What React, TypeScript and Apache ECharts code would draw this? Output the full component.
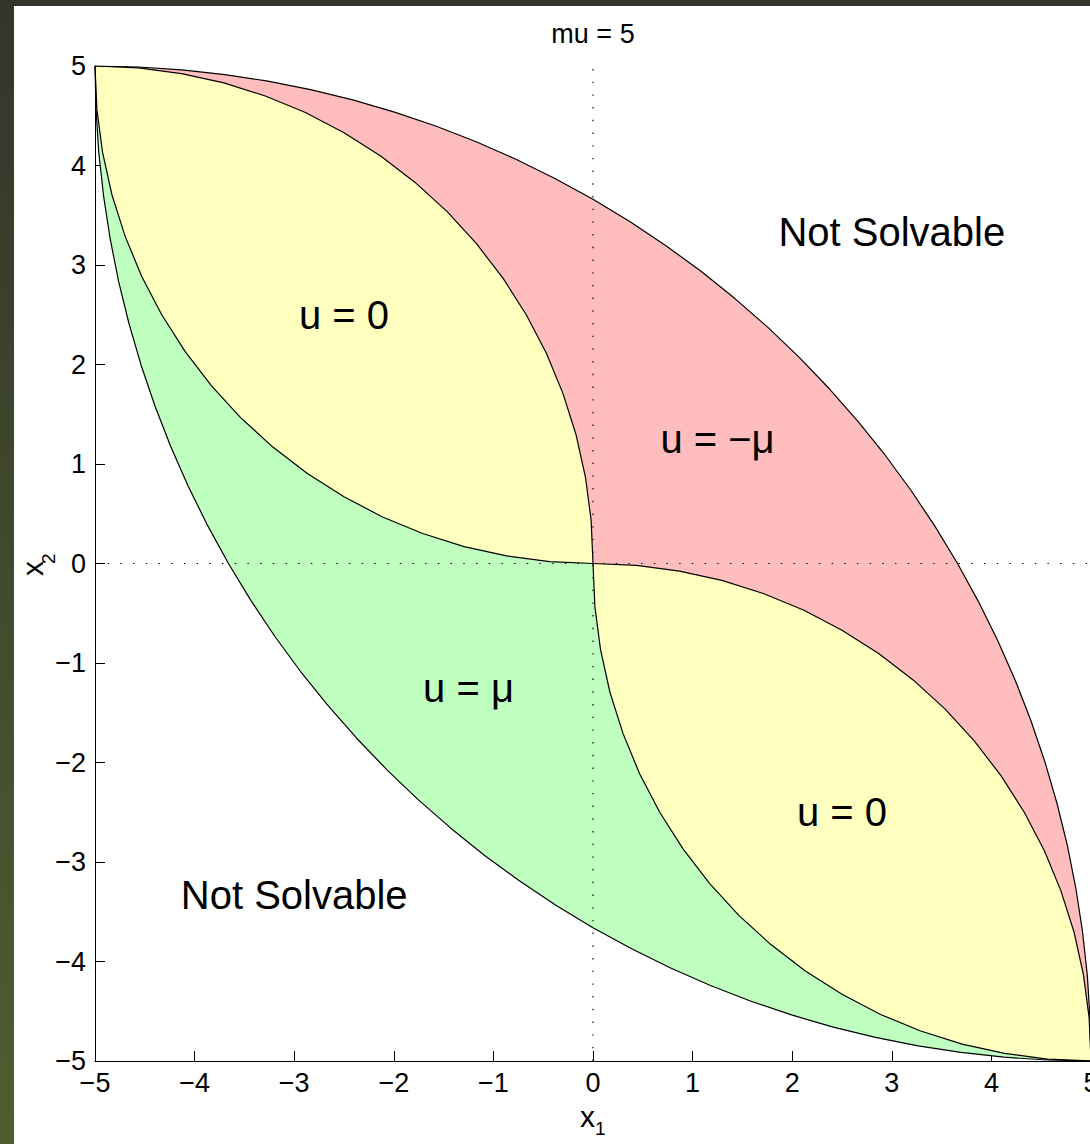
import React, { useEffect, useRef } from 'react';
import * as echarts from 'echarts';

const FONT = '"Liberation Sans", Arial, Helvetica, sans-serif';

const tickValues = [-5, -4, -3, -2, -1, 0, 1, 2, 3, 4, 5];
const tickLabels = ['−5', '−4', '−3', '−2', '−1', '0', '1', '2', '3', '4', '5'];

const titleText = 'mu = 5';

// Outer upper boundary (Not Solvable / u = -mu)
const curveA: number[][] = [
  [-5, 5], [-4.564, 4.99], [-4.128, 4.962], [-3.695, 4.914], [-3.264, 4.848], [-2.836, 4.763],
  [-2.412, 4.659], [-1.993, 4.537], [-1.58, 4.397], [-1.173, 4.239], [-0.774, 4.063], [-0.383, 3.87],
  [0, 3.66], [0.373, 3.434], [0.736, 3.192], [1.088, 2.934], [1.428, 2.66], [1.756, 2.373],
  [2.071, 2.071], [2.373, 1.756], [2.66, 1.428], [2.934, 1.088], [3.192, 0.736], [3.434, 0.373],
  [3.66, 0], [3.87, -0.383], [4.063, -0.774], [4.239, -1.173], [4.397, -1.58], [4.537, -1.993],
  [4.659, -2.412], [4.763, -2.836], [4.848, -3.264], [4.914, -3.695], [4.962, -4.128], [4.99, -4.564],
  [5, -5],
];

// Outer lower boundary (Not Solvable / u = mu)
const curveB: number[][] = [
  [-5, 5], [-4.99, 4.564], [-4.962, 4.128], [-4.914, 3.695], [-4.848, 3.264], [-4.763, 2.836],
  [-4.659, 2.412], [-4.537, 1.993], [-4.397, 1.58], [-4.239, 1.173], [-4.063, 0.774], [-3.87, 0.383],
  [-3.66, 0], [-3.434, -0.373], [-3.192, -0.736], [-2.934, -1.088], [-2.66, -1.428], [-2.373, -1.756],
  [-2.071, -2.071], [-1.756, -2.373], [-1.428, -2.66], [-1.088, -2.934], [-0.736, -3.192], [-0.373, -3.434],
  [0, -3.66], [0.383, -3.87], [0.774, -4.063], [1.173, -4.239], [1.58, -4.397], [1.993, -4.537],
  [2.412, -4.659], [2.836, -4.763], [3.264, -4.848], [3.695, -4.914], [4.128, -4.962], [4.564, -4.99],
  [5, -5],
];

// Upper lens, upper-right edge
const curveC: number[][] = [
  [-5, 5], [-4.564, 4.981], [-4.132, 4.924], [-3.706, 4.83], [-3.29, 4.698], [-2.887, 4.532],
  [-2.5, 4.33], [-2.132, 4.096], [-1.786, 3.83], [-1.464, 3.536], [-1.17, 3.214], [-0.904, 2.868],
  [-0.67, 2.5], [-0.468, 2.113], [-0.302, 1.71], [-0.17, 1.294], [-0.076, 0.868], [-0.019, 0.436],
  [0, 0],
];

// Upper lens, lower-left edge
const curveD: number[][] = [
  [-5, 5], [-4.981, 4.564], [-4.924, 4.132], [-4.83, 3.706], [-4.698, 3.29], [-4.532, 2.887],
  [-4.33, 2.5], [-4.096, 2.132], [-3.83, 1.786], [-3.536, 1.464], [-3.214, 1.17], [-2.868, 0.904],
  [-2.5, 0.67], [-2.113, 0.468], [-1.71, 0.302], [-1.294, 0.17], [-0.868, 0.076], [-0.436, 0.019],
  [0, 0],
];

// Lower lens, upper-right edge
const curveE: number[][] = [
  [0, 0], [0.436, -0.019], [0.868, -0.076], [1.294, -0.17], [1.71, -0.302], [2.113, -0.468],
  [2.5, -0.67], [2.868, -0.904], [3.214, -1.17], [3.536, -1.464], [3.83, -1.786], [4.096, -2.132],
  [4.33, -2.5], [4.532, -2.887], [4.698, -3.29], [4.83, -3.706], [4.924, -4.132], [4.981, -4.564],
  [5, -5],
];

// Lower lens, lower-left edge
const curveF: number[][] = [
  [0, 0], [0.019, -0.436], [0.076, -0.868], [0.17, -1.294], [0.302, -1.71], [0.468, -2.113],
  [0.67, -2.5], [0.904, -2.868], [1.17, -3.214], [1.464, -3.536], [1.786, -3.83], [2.132, -4.096],
  [2.5, -4.33], [2.887, -4.532], [3.29, -4.698], [3.706, -4.83], [4.132, -4.924], [4.564, -4.981],
  [5, -5],
];

const zeroLineX: number[][] = [[0, -5], [0, 5]];
const zeroLineY: number[][] = [[-5, 0], [5, 0]];

const regionLabels = [
  { text: 'u = 0', x1: -2.5, x2: 2.5 },
  { text: 'u = −μ', x1: 1.25, x2: 1.25 },
  { text: 'u = μ', x1: -1.25, x2: -1.25 },
  { text: 'u = 0', x1: 2.5, x2: -2.5 },
  { text: 'Not Solvable', x1: 3, x2: 3.33 },
  { text: 'Not Solvable', x1: -3, x2: -3.33 },
];

const rev = (a: number[][]) => a.slice().reverse();

const regions = [
  { name: 'red', color: '#ffbdbd', points: [...curveA, ...rev(curveE), ...rev(curveC)] },
  { name: 'green', color: '#bfffbf', points: [...curveD, ...curveF, ...rev(curveB)] },
  { name: 'yellowUpper', color: '#ffffc0', points: [...curveC, ...rev(curveD)] },
  { name: 'yellowLower', color: '#ffffc0', points: [...curveE, ...rev(curveF)] },
];

const curves = [curveA, curveB, curveC, curveD, curveE, curveF];

export default function App() {
  const ref = useRef<HTMLDivElement>(null);

  useEffect(() => {
    if (!ref.current) return;
    const chart = echarts.init(ref.current, null, { renderer: 'svg' });

    const axisCommon = {
      type: 'value',
      min: -5,
      max: 5,
      interval: 1,
      splitLine: { show: false },
      axisLine: { show: true, onZero: false, lineStyle: { color: '#000', width: 1 } },
      axisTick: { show: true, inside: true, length: 10, lineStyle: { color: '#000', width: 1 } },
      axisLabel: {
        show: true,
        color: '#000',
        fontSize: 27,
        fontFamily: FONT,
        showMinLabel: true,
        showMaxLabel: true,
        formatter: (v: number) => {
          const i = tickValues.indexOf(Math.round(v));
          return i >= 0 ? tickLabels[i] : '';
        },
      },
    };

    const series: any[] = [];
    regions.forEach((r) => {
      series.push({
        type: 'custom',
        name: r.name,
        coordinateSystem: 'cartesian2d',
        silent: true,
        z: 1,
        data: r.points,
        renderItem: (params: any, api: any) => {
          if (params.dataIndex !== 0) return null;
          const pts = r.points.map((p) => api.coord(p));
          return { type: 'polygon', shape: { points: pts }, style: { fill: r.color, stroke: 'none' } };
        },
      });
    });
    [zeroLineX, zeroLineY].forEach((d) => {
      series.push({
        type: 'line',
        data: d,
        showSymbol: false,
        silent: true,
        z: 2,
        lineStyle: { color: '#000', width: 1.2, type: [1.4, 11.3] },
      });
    });
    curves.forEach((c) => {
      series.push({
        type: 'line',
        data: c,
        showSymbol: false,
        silent: true,
        z: 3,
        lineStyle: { color: '#000', width: 1.2 },
      });
    });
    series.push({
      type: 'custom',
      coordinateSystem: 'cartesian2d',
      silent: true,
      z: 4,
      data: regionLabels.map((l) => [l.x1, l.x2]),
      renderItem: (params: any, api: any) => {
        const p = api.coord([api.value(0), api.value(1)]);
        return {
          type: 'text',
          x: p[0],
          y: p[1],
          style: {
            text: regionLabels[params.dataIndex].text,
            fontSize: 40,
            fontFamily: FONT,
            fill: '#000',
            align: 'center',
            verticalAlign: 'middle',
          },
        };
      },
    });

    chart.setOption({
      animation: false,
      backgroundColor: 'transparent',
      title: {
        text: titleText,
        left: 593,
        top: 20,
        textAlign: 'center',
        padding: 0,
        textStyle: { fontSize: 27, fontWeight: 'normal', color: '#000', fontFamily: FONT },
      },
      grid: { left: 95, top: 66, width: 996, height: 995, containLabel: false, outerBoundsMode: 'none' },
      xAxis: { ...axisCommon },
      yAxis: { ...axisCommon, axisLabel: { ...axisCommon.axisLabel, margin: 9 } },
      graphic: [
        { type: 'text', x: 580, y: 1116, style: { text: 'x', fontSize: 30, fontFamily: FONT, fill: '#000', align: 'left', verticalAlign: 'middle' } },
        { type: 'text', x: 595, y: 1128, style: { text: '1', fontSize: 19, fontFamily: FONT, fill: '#000', align: 'left', verticalAlign: 'middle' } },
        { type: 'text', x: 32, y: 576, rotation: Math.PI / 2, style: { text: 'x', fontSize: 30, fontFamily: FONT, fill: '#000', align: 'left', verticalAlign: 'middle' } },
        { type: 'text', x: 48, y: 564, rotation: Math.PI / 2, style: { text: '2', fontSize: 19, fontFamily: FONT, fill: '#000', align: 'left', verticalAlign: 'middle' } },
      ],
      series,
    });

    return () => chart.dispose();
  }, []);

  return (
    <div style={{ position: 'absolute', left: 0, top: 0, width: 1090, height: 1144, overflow: 'hidden', background: 'linear-gradient(to bottom, #33352a, #4f5e30)' }}>
      <div style={{ position: 'absolute', left: 14, top: 6, width: 1076, height: 1138, background: '#ffffff' }} />
      <div ref={ref} style={{ position: 'absolute', left: 0, top: 0, width: 1090, height: 1144 }} />
    </div>
  );
}
